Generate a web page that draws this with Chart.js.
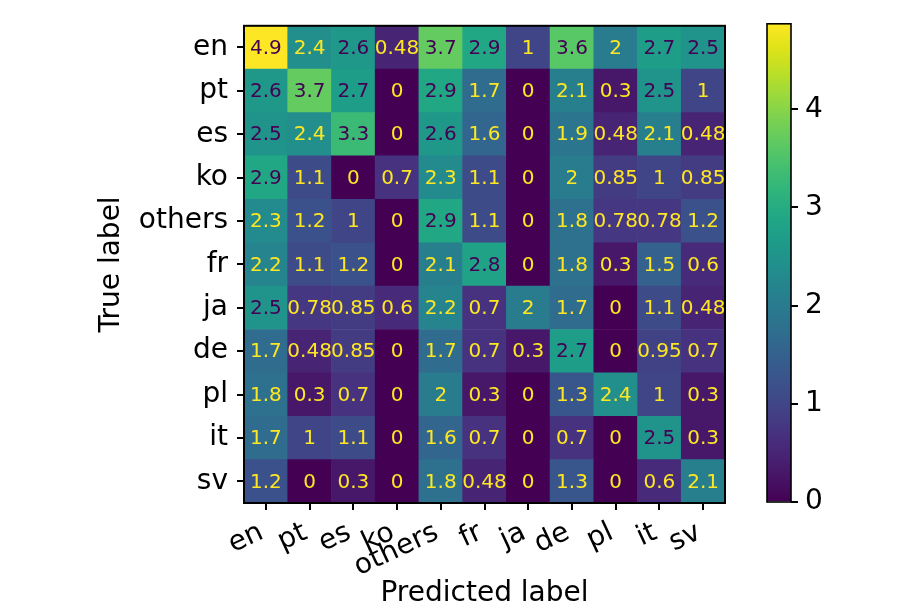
<!DOCTYPE html>
<html><head><meta charset="utf-8">
<script src="https://cdn.jsdelivr.net/npm/chart.js@4/dist/chart.umd.min.js"></script>
<style>
html,body{margin:0;padding:0;background:#fff;}
#wrap{position:relative;width:913px;height:609px;overflow:hidden;}
#main{position:absolute;left:0;top:0;}
#cbar{position:absolute;left:740px;top:0;}
</style></head><body>
<div id="wrap"><canvas id="main" width="913" height="609"></canvas><canvas id="cbar" width="173" height="609"></canvas></div>
<script>
// ---- data ----
const predictedLabels = ['en','pt','es','ko','others','fr','ja','de','pl','it','sv'];
const trueLabels      = ['en','pt','es','ko','others','fr','ja','de','pl','it','sv'];
const rowEn     = [4.87, 2.4, 2.6, 0.48, 3.7, 2.9, 1,   3.6, 2,    2.7,  2.5];
const rowPt     = [2.6,  3.7, 2.7, 0,    2.9, 1.7, 0,   2.1, 0.3,  2.5,  1];
const rowEs     = [2.5,  2.4, 3.3, 0,    2.6, 1.6, 0,   1.9, 0.48, 2.1,  0.48];
const rowKo     = [2.9,  1.1, 0,   0.7,  2.3, 1.1, 0,   2,   0.85, 1,    0.85];
const rowOthers = [2.3,  1.2, 1,   0,    2.9, 1.1, 0,   1.8, 0.78, 0.78, 1.2];
const rowFr     = [2.2,  1.1, 1.2, 0,    2.1, 2.8, 0,   1.8, 0.3,  1.5,  0.6];
const rowJa     = [2.5,  0.78,0.85,0.6,  2.2, 0.7, 2,   1.7, 0,    1.1,  0.48];
const rowDe     = [1.7,  0.48,0.85,0,    1.7, 0.7, 0.3, 2.7, 0,    0.95, 0.7];
const rowPl     = [1.8,  0.3, 0.7, 0,    2,   0.3, 0,   1.3, 2.4,  1,    0.3];
const rowIt     = [1.7,  1,   1.1, 0,    1.6, 0.7, 0,   0.7, 0,    2.5,  0.3];
const rowSv     = [1.2,  0,   0.3, 0,    1.8, 0.48,0,   1.3, 0,    0.6,  2.1];
const colorbarTicks = [0, 1, 2, 3, 4];

const matrixRows = [rowEn,rowPt,rowEs,rowKo,rowOthers,rowFr,rowJa,rowDe,rowPl,rowIt,rowSv];
const allVals = matrixRows.flat();
const vmin = Math.min(...allVals), vmax = Math.max(...allVals);
const thresh = (vmin + vmax) / 2;

// ---- viridis colormap ----
const VIRIDIS = ['#440154','#471365','#482475','#463480','#414487','#3b528b','#355f8d','#2f6c8e','#2a788e','#25848e','#21918c','#1e9c89','#22a884','#2fb47c','#44bf70','#5ec962','#7ad151','#9bd93c','#bddf26','#dfe318','#fde725'];
function hexToRgb(h){return [parseInt(h.slice(1,3),16),parseInt(h.slice(3,5),16),parseInt(h.slice(5,7),16)];}
function viridis(t){
  t = Math.max(0, Math.min(1, t));
  const n = VIRIDIS.length - 1, p = t * n;
  const i = Math.min(Math.floor(p), n - 1), f = p - i;
  const a = hexToRgb(VIRIDIS[i]), b = hexToRgb(VIRIDIS[i+1]);
  return 'rgb(' + a.map((c,k)=>Math.round(c + (b[k]-c)*f)).join(',') + ')';
}
const norm = v => (v - vmin) / (vmax - vmin);
const fmt = v => parseFloat(v.toPrecision(2)).toString();
const FONT = "'DejaVu Sans', sans-serif";

const framePlugin = {
  id: 'frame',
  afterDraw(chart, args, opts) {
    const {ctx, chartArea: a} = chart;
    ctx.save();
    ctx.strokeStyle = '#000';
    ctx.lineWidth = opts.width || 2;
    ctx.strokeRect(a.left, a.top, a.right - a.left, a.bottom - a.top);
    ctx.restore();
  }
};

const cellTextPlugin = {
  id: 'cellText',
  afterDatasetsDraw(chart) {
    const ctx = chart.ctx;
    ctx.save();
    ctx.font = '20px ' + FONT;
    ctx.textAlign = 'center';
    ctx.textBaseline = 'middle';
    chart.data.datasets.forEach((ds, k) => {
      const row = matrixRows[ds.rowIndex];
      chart.getDatasetMeta(k).data.forEach((bar, j) => {
        const p = bar.getProps(['x','y','base'], true);
        const v = row[j];
        ctx.fillStyle = v < thresh ? viridis(1) : viridis(0);
        ctx.fillText(fmt(v), p.x, (p.y + p.base) / 2 + 1);
      });
    });
    ctx.restore();
  }
};

// stacked bars: bottom dataset = last true label
const datasets = trueLabels.map((_, k) => {
  const r = trueLabels.length - 1 - k;
  return {
    rowIndex: r,
    data: predictedLabels.map(() => 1),
    backgroundColor: matrixRows[r].map(v => viridis(norm(v))),
    borderWidth: 0,
    barPercentage: 1,
    categoryPercentage: 1
  };
});

new Chart(document.getElementById('main'), {
  type: 'bar',
  data: { labels: predictedLabels, datasets },
  options: {
    responsive: false, animation: false,
    layout: { padding: { top: 22, right: 188, bottom: 0, left: 0 } },
    plugins: { legend: { display: false }, tooltip: { enabled: false }, frame: { width: 2 } },
    scales: {
      x: {
        stacked: true,
        grid: { display: true, offset: false, drawOnChartArea: false, drawTicks: true, tickLength: 7, color: '#000', lineWidth: 2 },
        border: { display: false },
        ticks: { color: '#000', font: { family: FONT, size: 28 }, minRotation: 25, maxRotation: 25, autoSkip: false, padding: 6, labelOffset: -4 },
        title: { display: true, text: 'Predicted label', color: '#000', font: { family: FONT, size: 28 }, padding: { top: 0, bottom: -2 } },
        afterFit: s => { s.height = 106; }
      },
      y: {
        stacked: true, min: 0, max: trueLabels.length,
        afterBuildTicks: s => { s.ticks = trueLabels.map((_, i) => ({ value: i + 0.5 })); },
        grid: { display: true, drawOnChartArea: false, drawTicks: true, tickLength: 7, color: '#000', lineWidth: 2 },
        border: { display: false },
        ticks: { color: '#000', font: { family: FONT, size: 28 }, padding: 9,
                 callback: v => trueLabels[trueLabels.length - 1 - Math.floor(v)] },
        title: { display: true, text: 'True label', color: '#000', font: { family: FONT, size: 28 }, padding: { top: 95, bottom: 0 } },
        afterFit: s => { s.width = 244; }
      }
    }
  },
  plugins: [cellTextPlugin, framePlugin]
});

// ---- colorbar ----
new Chart(document.getElementById('cbar'), {
  type: 'bar',
  data: { labels: [''], datasets: [{
    data: [vmax], borderWidth: 0, barPercentage: 1, categoryPercentage: 1,
    backgroundColor: c => {
      const a = c.chart.chartArea;
      if (!a) return VIRIDIS[0];
      const g = c.chart.ctx.createLinearGradient(0, a.bottom, 0, a.top);
      VIRIDIS.forEach((col, i) => g.addColorStop(i / (VIRIDIS.length - 1), col));
      return g;
    }
  }]},
  options: {
    responsive: false, animation: false,
    layout: { padding: { top: 23, right: 0, bottom: 107, left: 27 } },
    plugins: { legend: { display: false }, tooltip: { enabled: false }, frame: { width: 1.6 } },
    scales: {
      x: { display: false },
      y: {
        position: 'right', min: vmin, max: vmax,
        afterBuildTicks: s => { s.ticks = colorbarTicks.map(v => ({ value: v })); },
        grid: { display: true, drawOnChartArea: false, drawTicks: true, tickLength: 7, color: '#000', lineWidth: 2 },
        border: { display: false },
        ticks: { color: '#000', font: { family: FONT, size: 28 }, padding: 7 },
        afterFit: s => { s.width = 122; }
      }
    }
  },
  plugins: [framePlugin]
});
</script>
</body></html>
